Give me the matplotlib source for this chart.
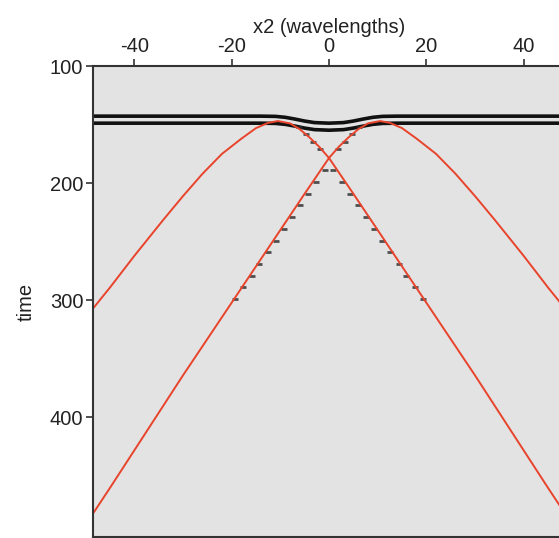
import matplotlib.pyplot as plt
import numpy as np

plt.rcParams['font.family'] = ['Liberation Sans', 'DejaVu Sans']
plt.rcParams['axes.unicode_minus'] = False

# red traveltime curve with apex on the left (x2 in wavelengths, time)
leftX = [-48.5, -45, -40, -34, -30, -26, -22, -18, -15, -12.5, -10.5, -8, -6, -4, -2, 0,
         5, 10, 15, 20, 25, 30, 35, 40, 45, 48.5]
leftT = [307, 289, 262, 231, 211, 192, 175, 162, 153, 148.5, 147, 149, 154, 161, 169, 178.5,
         209, 240, 271, 302, 333, 364, 396, 428, 460, 482]

# red traveltime curve with apex on the right
rightX = [48.5, 45, 40, 34, 30, 26, 22, 18, 15, 12.5, 10.5, 8, 6, 4, 2, 0,
          -5, -10, -15, -20, -25, -30, -35, -40, -45, -48.5]
rightT = [307, 289, 262, 231, 211, 192, 175, 162, 153, 148.5, 147, 149, 154, 161, 169, 178.5,
          209, 240, 271, 302, 333, 364, 396, 428, 460, 482]

# two black reflectors, dipping slightly in the middle
refX = [-48.5, -20, -14, -11, -9, -7, -5, -3, 0, 3, 5, 7, 9, 11, 14, 20, 48.5]
ref1T = [142.8, 142.8, 142.8, 143.0, 143.8, 145.3, 147.0, 148.3, 148.8, 148.3, 147.0, 145.3,
         143.8, 143.0, 142.8, 142.8, 142.8]
ref2T = [148.8, 148.8, 148.8, 149.0, 149.8, 151.3, 153.0, 154.3, 154.8, 154.3, 153.0, 151.3,
         149.8, 149.0, 148.8, 148.8, 148.8]

# black amplitude dashes along the inner branches
dashX = [-6.2, -4.7, -3.2, -1.8, -0.9, -2.6, -4.3, -5.9, -7.6, -9.3, -10.9, -12.6, -14.3,
         -15.9, -17.6, -19.3,
         6.2, 4.7, 3.2, 1.8, 0.9, 2.6, 4.3, 5.9, 7.6, 9.3, 10.9, 12.6, 14.3, 15.9, 17.6, 19.3]
dashT = [152, 158, 165, 171, 189, 199, 209, 219, 229, 239, 249, 259, 269, 279, 289, 299,
         152, 158, 165, 171, 189, 199, 209, 219, 229, 239, 249, 259, 269, 279, 289, 299]

xTicks = [-40, -20, 0, 20, 40]
yTicks = [100, 200, 300, 400]

fig = plt.figure(figsize=(5.59, 5.38), dpi=100)
ax = fig.add_axes([93 / 559, 1 / 538, 472 / 559, 471 / 538])
ax.set_facecolor('#e3e3e3')

for t in (ref1T, ref2T):
  ax.plot(refX, t, color='#111111', lw=2.6, solid_capstyle='butt')

ax.plot(dashX, dashT, ls='none', marker='_', ms=4.5, mew=2, color='#2a2a2a', alpha=0.8)

ax.plot(leftX, leftT, color='#e8432b', lw=1.4)
ax.plot(rightX, rightT, color='#e8432b', lw=1.4)

ax.set_xlim(-48.5, 48.5)
ax.set_ylim(502, 100)
ax.xaxis.tick_top()
ax.xaxis.set_label_position('top')
ax.set_xticks(xTicks)
ax.set_yticks(yTicks)
ax.tick_params(direction='out', length=5, width=1.2, colors='#333333', labelsize=14.5,
               labelcolor='#222222', pad=2)
ax.set_xlabel('x2 (wavelengths)', fontsize=14.5, color='#222222', labelpad=3)
ax.set_ylabel('time', fontsize=14.5, color='#222222', labelpad=10)
for s in ax.spines.values():
  s.set_color('#333333')
  s.set_linewidth(1.5)

fig.savefig('out.png', dpi=100)
